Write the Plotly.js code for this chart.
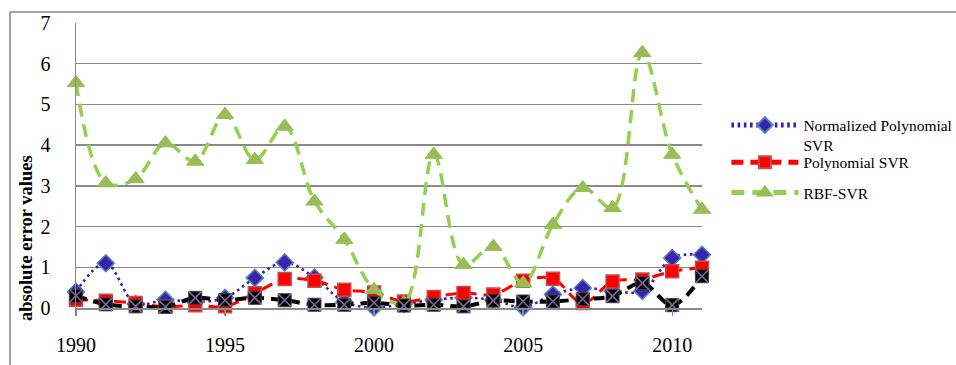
<!DOCTYPE html>
<html>
<head>
<meta charset="utf-8">
<script src="https://cdn.plot.ly/plotly-3.0.1.min.js"></script>
<style>
  html, body { margin: 0; padding: 0; background: #ffffff; }
  #chart { width: 956px; height: 365px; }
</style>
</head>
<body>
<div id="chart"></div>
<script>
// Years on the category axis
const years = [1990, 1991, 1992, 1993, 1994, 1995, 1996, 1997, 1998, 1999, 2000,
               2001, 2002, 2003, 2004, 2005, 2006, 2007, 2008, 2009, 2010, 2011];

// Absolute error of each model per year
const normalizedPolySVR = [0.40, 1.10, 0.10, 0.20, 0.15, 0.25, 0.74, 1.12, 0.75, 0.15, 0.01,
                           0.10, 0.20, 0.25, 0.20, 0.02, 0.33, 0.49, 0.42, 0.42, 1.23, 1.31];
const polySVR = [0.20, 0.18, 0.12, 0.03, 0.07, 0.04, 0.36, 0.71, 0.67, 0.45, 0.38,
                 0.16, 0.27, 0.37, 0.33, 0.67, 0.72, 0.12, 0.65, 0.70, 0.90, 0.99];
const rbfSVR = [5.53, 3.07, 3.17, 4.05, 3.60, 4.75, 3.64, 4.46, 2.62, 1.68, 0.45,
                0.12, 3.77, 1.06, 1.51, 0.61, 2.05, 2.95, 2.46, 6.27, 3.77, 2.42];
const proposedModel = [0.30, 0.09, 0.04, 0.03, 0.25, 0.19, 0.25, 0.19, 0.08, 0.08, 0.13,
                       0.06, 0.08, 0.04, 0.18, 0.16, 0.16, 0.22, 0.29, 0.61, 0.07, 0.78];

// Axis ticks and labels
const xTicks = [1990, 1995, 2000, 2005, 2010];
const yTicks = [0, 1, 2, 3, 4, 5, 6, 7];
const seriesNames = ['Normalized Polynomial<br>SVR', 'Polynomial SVR', 'RBF-SVR'];
const yTitle = 'absolute error values';

const FONT = 'Liberation Serif, Times New Roman, serif';
const GRID = '#8a8a8a';

const traces = [
  {
    x: years, y: normalizedPolySVR, name: seriesNames[0], type: 'scatter', mode: 'lines+markers',
    cliponaxis: false,
    line: { color: '#3320a8', width: 2.6, dash: '2.6px,3.6px', shape: 'spline', smoothing: 1 },
    marker: { symbol: 'diamond', size: 13, color: '#3a22aa', line: { color: '#4f81bd', width: 1.5 } },
    legend: 'legend'
  },
  {
    x: years, y: polySVR, name: seriesNames[1], type: 'scatter', mode: 'lines+markers',
    cliponaxis: false,
    line: { color: '#ff0000', width: 3, dash: '12px,7px', shape: 'spline', smoothing: 1 },
    marker: { symbol: 'square', size: 13, color: '#ff0000', line: { color: '#c0504d', width: 1.5 } },
    legend: 'legend2'
  },
  {
    x: years, y: rbfSVR, name: seriesNames[2], type: 'scatter', mode: 'lines+markers',
    cliponaxis: false,
    line: { color: '#92d050', width: 3.5, dash: '13px,8px', shape: 'spline', smoothing: 1 },
    marker: { symbol: 'triangle-up', size: 15, color: '#9bbb59', line: { color: '#8fbf50', width: 1 } },
    legend: 'legend3'
  },
  {
    x: years, y: proposedModel, type: 'scatter', mode: 'lines+markers', showlegend: false,
    cliponaxis: false,
    line: { color: '#000000', width: 4, dash: '11px,7px', shape: 'spline', smoothing: 1 },
    marker: { symbol: 'square', size: 13, color: '#000000', line: { color: '#404040', width: 1 } },
    hoverinfo: 'x+y'
  },
  {
    // purple cross drawn over the black squares
    x: years, y: proposedModel, type: 'scatter', mode: 'markers', showlegend: false,
    cliponaxis: false,
    marker: { symbol: 'x-thin-open', size: 13, color: '#8064a2', line: { color: '#8064a2', width: 1.6 } },
    hoverinfo: 'skip'
  }
];

const legendCommon = {
  xref: 'paper', yref: 'paper', xanchor: 'left',
  bgcolor: 'rgba(0,0,0,0)', borderwidth: 0,
  font: { family: FONT, size: 15.5, color: '#000000' },
  itemwidth: 67, itemsizing: 'constant', valign: 'top'
};

const layout = {
  width: 956, height: 365,
  margin: { l: 76, r: 254, t: 23, b: 57, autoexpand: false },
  paper_bgcolor: '#ffffff', plot_bgcolor: '#ffffff',
  font: { family: FONT, size: 20, color: '#000000' },
  xaxis: {
    range: [1990, 2011], tickvals: xTicks, ticktext: xTicks.map(String),
    showgrid: false, zeroline: false, showline: true, linecolor: GRID, linewidth: 1.5,
    ticks: 'outside', ticklen: 6, tickcolor: GRID, tickwidth: 1.3,
    ticklabelstandoff: 12,
    tickfont: { family: FONT, size: 20, color: '#000000' }
  },
  yaxis: {
    range: [0, 7], tickvals: yTicks, ticktext: yTicks.map(String),
    showgrid: true, gridcolor: GRID, gridwidth: 1.4, zeroline: false,
    showline: true, linecolor: GRID, linewidth: 1.5, ticks: '',
    ticklabelstandoff: 20,
    tickfont: { family: FONT, size: 20, color: '#000000' }
  },
  legend: Object.assign({}, legendCommon, { x: 1.039, y: 0.70, yanchor: 'top' }),
  legend2: Object.assign({}, legendCommon, { x: 1.039, y: 0.51, yanchor: 'middle' }),
  legend3: Object.assign({}, legendCommon, { x: 1.039, y: 0.4035, yanchor: 'middle' }),
  annotations: [{
    text: '<b>' + yTitle + '</b>', textangle: -90,
    xref: 'paper', yref: 'paper', x: -0.08, y: 0.245,
    xanchor: 'center', yanchor: 'middle', showarrow: false,
    font: { family: FONT, size: 18.5, color: '#000000' }
  }],
  shapes: [
    { type: 'line', xref: 'paper', yref: 'paper', x0: -0.1054, x1: 1.5, y0: 1.0386, y1: 1.0386,
      line: { color: GRID, width: 1.6 } },
    { type: 'line', xref: 'paper', yref: 'paper', x0: -0.1054, x1: -0.1054, y0: 1.0386, y1: -0.4,
      line: { color: GRID, width: 1.6 } }
  ]
};

Plotly.newPlot('chart', traces, layout, { displayModeBar: false, staticPlot: true });
</script>
</body>
</html>
